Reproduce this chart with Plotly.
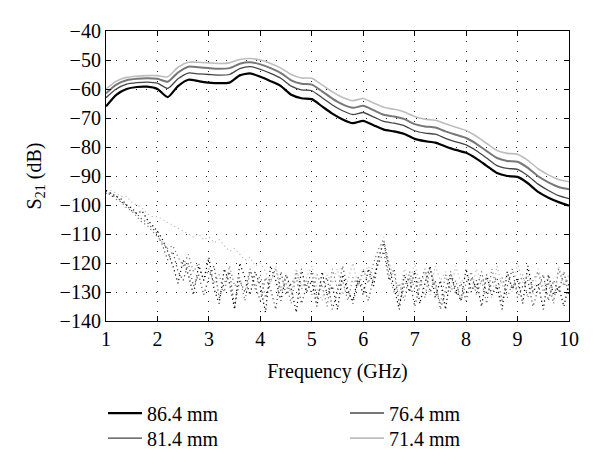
import plotly.graph_objects as go

# ---- data ----
freq_solid = [round(1.0 + 0.2 * i, 1) for i in range(46)]

s21_864 = [-66, -62, -60, -59.3, -59.2, -60, -62.8, -59, -56.8, -57.3,
           -57.8, -58, -57.8, -55.3, -54.6, -55.8, -57.3, -59, -62, -63.2,
           -63.5, -66, -68.5, -70.5, -71.8, -71, -72.5, -74, -74.6, -75.5,
           -77.2, -78, -78.5, -79.8, -81, -82, -84, -86.5, -89, -90,
           -90.3, -92.5, -95.5, -97.5, -99, -100.2]
s21_814 = [-63, -60, -58.3, -57.8, -57.6, -58, -59.8, -56.5, -54.5, -54.8,
           -55, -55.2, -55, -53, -52.3, -53.2, -54.6, -56.3, -59, -60.3,
           -60.6, -63, -65.5, -67.5, -68.8, -68.1, -69.6, -71.2, -71.8, -72.7,
           -74.4, -75.2, -75.6, -77, -78.2, -79.3, -81.3, -83.8, -86.4, -87.4,
           -87.7, -89.9, -92.8, -95, -96.8, -97.8]
s21_764 = [-61.5, -58.5, -57, -56.5, -56.3, -56.5, -57.5, -54.3, -52.3, -52.5,
           -52.8, -53, -52.8, -51.3, -50.8, -51.5, -52.8, -54.5, -57, -58.2,
           -58.5, -60.8, -63.3, -65.3, -66.5, -65.8, -67.3, -68.9, -69.5, -70.4,
           -72.1, -72.9, -73.3, -74.6, -75.8, -76.9, -78.9, -81.4, -83.8, -84.8,
           -85.1, -87.2, -90.1, -92.2, -93.8, -94.6]
s21_714 = [-60, -57.3, -56, -55.6, -55.4, -55.4, -55.8, -52.5, -50.8, -50.8,
           -51, -51.2, -51, -49.8, -49.5, -50, -51.2, -52.8, -55, -56.2,
           -56.3, -58.6, -61, -62.9, -64, -63.3, -64.8, -66.3, -67, -67.9,
           -69.5, -70.4, -70.8, -72, -73.2, -74.3, -76.3, -78.8, -81.2, -82.2,
           -82.5, -84.6, -87.5, -89.6, -91.2, -92]

freq_noise = [round(1.0 + 0.1 * i, 1) for i in range(91)]

noise_864 = [-95, -96, -97, -98, -100, -101, -103, -102, -105, -107,
             -109, -112, -116, -121, -127, -119, -124, -131, -121, -126,
             -118, -129, -134, -122, -127, -136, -120, -125, -131, -123,
             -128, -137, -121, -126, -133, -124, -129, -137, -122, -130,
             -126, -135, -123, -131, -128, -136, -124, -130, -133, -125,
             -131, -122, -128, -118, -113, -121, -129, -136, -124, -130,
             -123, -134, -127, -121, -132, -126, -136, -124, -129, -133,
             -122, -130, -126, -135, -124, -131, -128, -136, -123, -129,
             -125, -134, -121, -130, -127, -136, -124, -131, -128, -135,
             -127]
noise_814 = [-95, -97, -97, -99, -100, -102, -103, -105, -106, -108,
             -110, -114, -119, -116, -123, -126, -120, -128, -124, -131,
             -125, -121, -132, -127, -123, -135, -126, -130, -122, -128,
             -133, -125, -129, -136, -123, -131, -127, -125, -134, -128,
             -123, -132, -127, -125, -136, -130, -121, -129, -134, -126,
             -128, -133, -125, -120, -116, -126, -122, -134, -128, -125,
             -135, -128, -122, -130, -126, -136, -129, -123, -131, -127,
             -133, -125, -129, -123, -131, -127, -125, -133, -128, -122,
             -132, -128, -126, -135, -129, -124, -133, -126, -130, -123,
             -131]
noise_764 = [-96, -96, -98, -99, -101, -102, -104, -106, -107, -109,
             -111, -113, -115, -114, -118, -121, -117, -123, -120, -126,
             -122, -127, -124, -130, -121, -128, -125, -133, -123, -129,
             -124, -132, -126, -122, -130, -127, -134, -123, -129, -126,
             -131, -124, -128, -135, -122, -129, -126, -133, -125, -128,
             -122, -127, -120, -115, -112, -124, -130, -127, -133, -123,
             -129, -125, -132, -122, -128, -134, -124, -130, -126, -133,
             -127, -123, -131, -126, -134, -122, -129, -125, -132, -127,
             -129, -124, -132, -126, -123, -130, -127, -134, -122, -128,
             -125]
noise_714 = [-95, -95, -96, -97, -97, -99, -100, -101, -103, -104,
             -104, -105, -106, -107, -108, -109, -110, -111, -110, -112,
             -111, -113, -112, -114, -116, -115, -117, -119, -118, -121,
             -120, -123, -127, -121, -129, -124, -131, -122, -128, -125,
             -121, -129, -133, -124, -127, -122, -131, -126, -120, -128,
             -124, -121, -126, -117, -111, -120, -125, -131, -122, -127,
             -120, -128, -124, -131, -121, -126, -123, -129, -121, -127,
             -124, -130, -122, -127, -125, -132, -121, -128, -124, -130,
             -120, -127, -124, -131, -122, -128, -125, -133, -121, -127,
             -124]

x_ticks = [1, 2, 3, 4, 5, 6, 7, 8, 9, 10]
y_ticks = [-40, -50, -60, -70, -80, -90, -100, -110, -120, -130, -140]

# name, solid values, noise values, colour, width, legend id, legend (x, y) in container units
series = [
    ("86.4 mm", s21_864, noise_864, "#000000", 2.2, "legend", 103 / 600, 0.168),
    ("81.4 mm", s21_814, noise_814, "#444444", 1.3, "legend2", 103 / 600, 0.115),
    ("76.4 mm", s21_764, noise_764, "#777777", 2.0, "legend3", 345 / 600, 0.168),
    ("71.4 mm", s21_714, noise_714, "#bdbdbd", 1.6, "legend4", 345 / 600, 0.115),
]

FONT = "Liberation Serif"
FS = 20
fig = go.Figure()

# noisy dotted traces (drawn first, below)
for s in series[::-1]:
    fig.add_trace(go.Scatter(
        x=freq_noise, y=s[2], mode="lines", showlegend=False, hoverinfo="skip",
        line=dict(color=s[3], width=1.2, dash="1.2px,3px")))

for s in series:
    fig.add_trace(go.Scatter(
        x=freq_solid, y=s[1], mode="lines", name=s[0], legend=s[5],
        line=dict(color=s[3], width=s[4], shape="spline", smoothing=0.6)))

axis_common = dict(
    showline=True, linecolor="black", linewidth=1.2, mirror="ticks",
    ticks="inside", ticklen=5, tickcolor="black",
    showgrid=True, gridcolor="#222222", gridwidth=1, griddash="1px,9px",
    zeroline=False, automargin=False,
    tickfont=dict(family=FONT, size=FS, color="black"),
)

fig.update_xaxes(range=[1, 10], tickvals=x_ticks,
                 title=dict(text="Frequency (GHz)", font=dict(family=FONT, size=FS, color="black"), standoff=14),
                 **axis_common)
fig.update_yaxes(range=[-140, -40], tickvals=y_ticks,
                 title=dict(text="S<sub>21</sub> (dB)", font=dict(family=FONT, size=FS, color="black"), standoff=12),
                 **axis_common)

legend_common = dict(orientation="h", xref="container", yref="container",
                     xanchor="left", yanchor="top",
                     itemwidth=34, entrywidth=200, entrywidthmode="pixels",
                     font=dict(family=FONT, size=FS, color="black"),
                     bgcolor="rgba(0,0,0,0)")

legends = {s[5]: dict(x=s[6], y=s[7], **legend_common) for s in series}

fig.update_layout(
    width=600, height=473,
    margin=dict(l=106, r=31, t=31, b=152),
    paper_bgcolor="white", plot_bgcolor="white",
    font=dict(family=FONT, size=FS, color="black"),
    **legends,
)

fig.write_html("out.html", config={"displayModeBar": False},
               post_script="document.body.style.margin='0';")
